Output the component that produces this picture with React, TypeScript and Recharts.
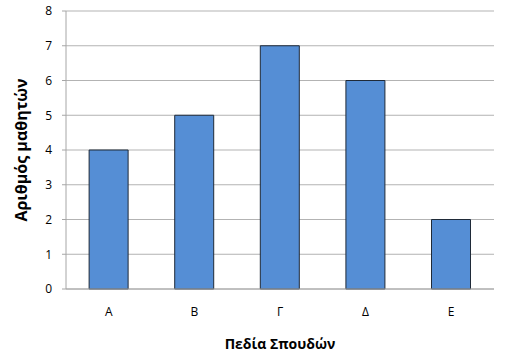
import React from 'react';
import { BarChart, Bar, XAxis, YAxis, CartesianGrid } from 'recharts';

const categories = ['Α', 'Β', 'Γ', 'Δ', 'Ε'];
const students = [4, 5, 7, 6, 2];
const yTicks = [0, 1, 2, 3, 4, 5, 6, 7, 8];

const data = categories.map((name, i) => ({ name, value: students[i] }));

const FONT = '"Open Sans", "Noto Sans", sans-serif';

const App: React.FC = () => {
  return (
    <div style={{ position: 'absolute', left: 0, top: 0, width: 507, height: 361, background: '#fff' }}>
      <BarChart
        width={507}
        height={361}
        data={data}
        margin={{ top: 11, right: 13, left: 0, bottom: 0 }}
        barCategoryGap="27%"
      >
        <CartesianGrid vertical={false} stroke="#b3b3b3" strokeWidth={1} />
        <XAxis
          dataKey="name"
          height={72}
          axisLine={{ stroke: '#a6a6a6' }}
          tickLine={false}
          tickSize={0}
          tickMargin={18}
          tick={{ fill: '#000', fontSize: 12, fontFamily: FONT }}
          label={{
            value: 'Πεδία Σπουδών',
            position: 'insideBottom',
            offset: 12,
            style: { fill: '#000', fontSize: 14, fontWeight: 'bold', fontFamily: FONT },
          }}
        />
        <YAxis
          width={66}
          domain={[0, 8]}
          ticks={yTicks}
          interval={0}
          axisLine={{ stroke: '#a6a6a6' }}
          tickLine={{ stroke: '#a6a6a6' }}
          tickSize={4}
          tickMargin={10}
          tick={{ fill: '#000', fontSize: 12, fontFamily: FONT }}
          label={{
            value: 'Αριθμός μαθητών',
            angle: -90,
            position: 'insideLeft',
            offset: 21,
            style: { textAnchor: 'middle', fill: '#000', fontSize: 16, fontWeight: 'bold', fontFamily: FONT },
          }}
        />
        <Bar dataKey="value" fill="#558ED5" stroke="#1f2a38" strokeWidth={1} isAnimationActive={false} />
      </BarChart>
    </div>
  );
};

export default App;
